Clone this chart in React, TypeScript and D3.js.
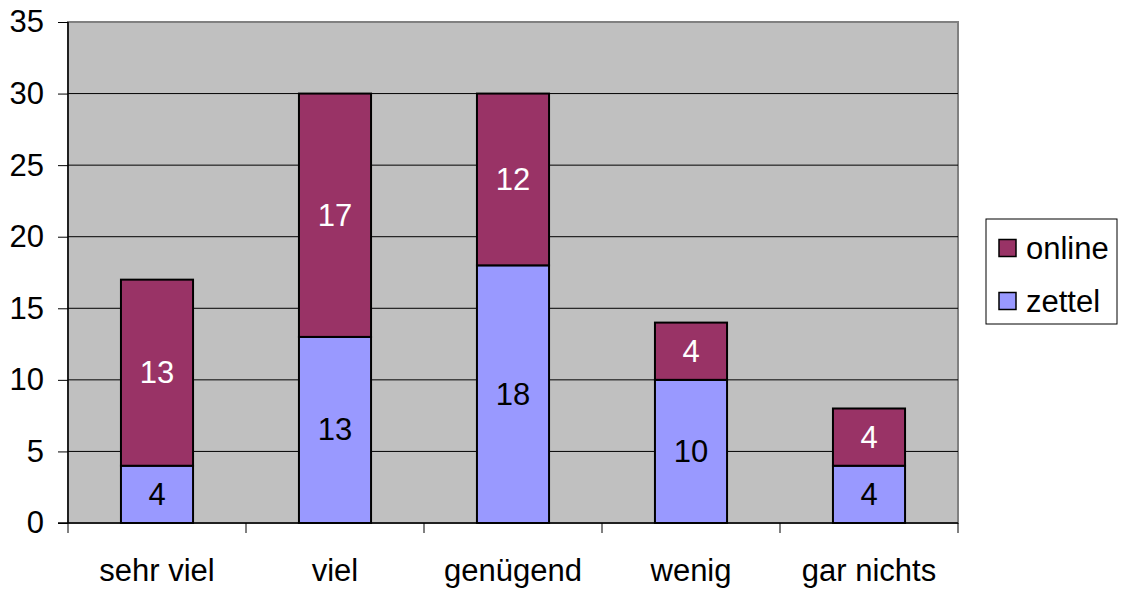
import React, { useRef, useEffect } from 'react'
import * as d3 from 'd3'

const categories = ['sehr viel', 'viel', 'genügend', 'wenig', 'gar nichts']
const zettel = [4, 13, 18, 10, 4]
const online = [13, 17, 12, 4, 4]
const yTicks = [0, 5, 10, 15, 20, 25, 30, 35]

const seriesKeys = ['zettel', 'online']
const seriesColors: Record<string, string> = { zettel: '#9999FF', online: '#993366' }
const labelColors: Record<string, string> = { zettel: '#000000', online: '#FFFFFF' }

const W = 1121
const H = 589
const FONT = 'Liberation Sans, Arial, sans-serif'
const FS = '31px'

const App: React.FC = () => {
  const svgRef = useRef<SVGSVGElement>(null)

  useEffect(() => {
    const svg = d3.select(svgRef.current!)
    svg.selectAll('*').remove()

    const plot = { left: 68, top: 22, right: 958, bottom: 523 }

    const x = d3
      .scaleBand<string>()
      .domain(categories)
      .range([plot.left, plot.right])
      .paddingInner(0)
      .paddingOuter(0)

    const y = d3.scaleLinear().domain([0, 35]).range([plot.bottom, plot.top])

    const rows = categories.map((c, i) => ({ cat: c, zettel: zettel[i], online: online[i] }))
    const stack = d3.stack<any>().keys(seriesKeys)(rows)

    // plot background
    svg
      .append('rect')
      .attr('x', plot.left)
      .attr('y', plot.top)
      .attr('width', plot.right - plot.left)
      .attr('height', plot.bottom - plot.top)
      .attr('fill', '#C0C0C0')
      .attr('stroke', '#808080')
      .attr('stroke-width', 2)

    // gridlines
    svg
      .append('g')
      .selectAll('line')
      .data(yTicks.filter((t) => t > 0 && t < 35))
      .join('line')
      .attr('x1', plot.left)
      .attr('x2', plot.right)
      .attr('y1', (d) => y(d))
      .attr('y2', (d) => y(d))
      .attr('stroke', '#000')
      .attr('stroke-width', 1)

    // bars
    const barW = x.bandwidth() * 0.405
    stack.forEach((layer) => {
      const key = layer.key
      const g = svg.append('g')
      layer.forEach((seg, i) => {
        const cx = x(categories[i])! + x.bandwidth() / 2
        g.append('rect')
          .attr('x', cx - barW / 2)
          .attr('y', y(seg[1]))
          .attr('width', barW)
          .attr('height', y(seg[0]) - y(seg[1]))
          .attr('fill', seriesColors[key])
          .attr('stroke', '#000')
          .attr('stroke-width', 2)
        g.append('text')
          .attr('x', cx)
          .attr('y', (y(seg[0]) + y(seg[1])) / 2)
          .attr('text-anchor', 'middle')
          .attr('dominant-baseline', 'central')
          .style('font-family', FONT)
          .style('font-size', FS)
          .attr('fill', labelColors[key])
          .text(seg[1] - seg[0])
      })
    })

    // y axis
    const yAxis = svg
      .append('g')
      .attr('transform', `translate(${plot.left},0)`)
      .call(d3.axisLeft(y).tickValues(yTicks).tickSize(10).tickPadding(14).tickFormat(d3.format('d')))
    yAxis.select('.domain').attr('stroke', '#000').attr('stroke-width', 1.5).attr('d', `M0,${plot.top}V${plot.bottom}`)
    yAxis.selectAll('.tick line').attr('stroke', '#000')
    yAxis
      .selectAll('text')
      .style('font-family', FONT)
      .style('font-size', FS)
      .attr('fill', '#000')

    // x axis
    const xAxis = svg.append('g').attr('transform', `translate(0,${plot.bottom})`)
    xAxis
      .append('line')
      .attr('x1', plot.left - 10)
      .attr('x2', plot.right)
      .attr('y1', 0)
      .attr('y2', 0)
      .attr('stroke', '#000')
      .attr('stroke-width', 1.5)
    const bounds = categories.map((c) => x(c)!).concat([plot.right])
    xAxis
      .selectAll('line.tick')
      .data(bounds)
      .join('line')
      .attr('class', 'tick')
      .attr('x1', (d) => d)
      .attr('x2', (d) => d)
      .attr('y1', 0)
      .attr('y2', 10)
      .attr('stroke', '#000')
    xAxis
      .selectAll('text')
      .data(categories)
      .join('text')
      .attr('x', (d) => x(d)! + x.bandwidth() / 2)
      .attr('y', 58)
      .attr('text-anchor', 'middle')
      .style('font-family', FONT)
      .style('font-size', FS)
      .attr('fill', '#000')
      .text((d) => d)

    // legend
    const lg = svg.append('g')
    lg.append('rect')
      .attr('x', 986)
      .attr('y', 219)
      .attr('width', 131)
      .attr('height', 105)
      .attr('fill', '#fff')
      .attr('stroke', '#000')
      .attr('stroke-width', 1)
    const legendItems = ['online', 'zettel']
    legendItems.forEach((k, i) => {
      const cy = 248 + i * 53
      lg.append('rect')
        .attr('x', 999)
        .attr('y', cy - 8.5)
        .attr('width', 17)
        .attr('height', 17)
        .attr('fill', seriesColors[k])
        .attr('stroke', '#000')
        .attr('stroke-width', 1.5)
      lg.append('text')
        .attr('x', 1026)
        .attr('y', cy)
        .attr('dominant-baseline', 'central')
        .style('font-family', FONT)
        .style('font-size', FS)
        .attr('fill', '#000')
        .text(k)
    })
  }, [])

  return (
    <svg
      ref={svgRef}
      width={W}
      height={H}
      viewBox={`0 0 ${W} ${H}`}
      style={{ position: 'absolute', left: 0, top: 0, background: '#fff' }}
    />
  )
}

export default App
